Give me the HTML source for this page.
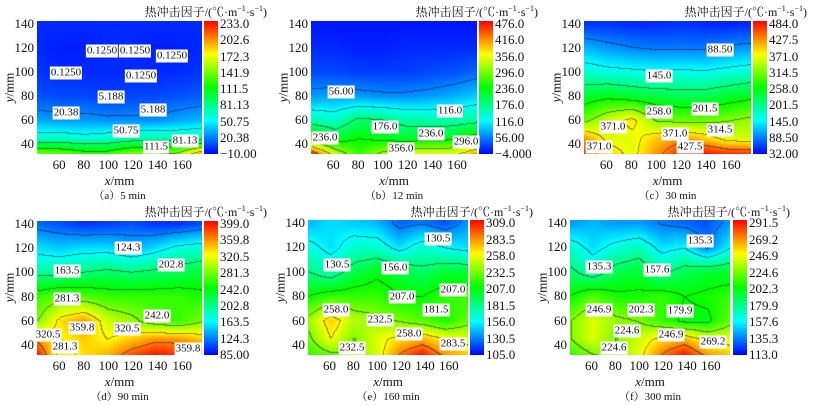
<!DOCTYPE html>
<html><head><meta charset="utf-8"><style>
body{margin:0;width:817px;height:406px;background:#fff;position:relative;overflow:hidden;font-family:"Liberation Serif","Noto Serif CJK SC",serif;color:#111}
.a{position:absolute;white-space:nowrap;line-height:1}
.lb{position:absolute;transform:translate(-50%,-50%);background:#fff;font-size:11px;padding:1px 1px;line-height:1;white-space:nowrap}
canvas{position:absolute;display:block}
</style></head><body>
<script>
function jet(t){t=Math.max(0,Math.min(1,t));var r,g,b;
if(t<.25){r=0;g=t/.25*255;b=255}else if(t<.5){r=0;g=255;b=255*(1-(t-.25)/.25)}else if(t<.75){r=255*(t-.5)/.25;g=255;b=0}else{r=255;g=255*(1-(t-.75)/.25);b=0}
return [r,g,b]}
var P=[
{x0:37,x1:202,y0:21,y1:154,cb:204,cap:"（a）5 min",ticks:["233.0","202.6","172.3","141.9","111.5","81.13","50.75","20.38","−10.00"],tr:267,ty:12,
g:[[.04,.04,.04,.04,.04,.04,.04,.04],[.04,.03,.03,.04,.04,.03,.03,.04],[.05,.04,.04,.04,.04,.04,.04,.05],[.08,.07,.07,.06,.07,.07,.08,.09],[.16,.15,.15,.14,.14,.14,.16,.18],[.30,.30,.28,.30,.33,.33,.33,.35],[.62,.60,.55,.55,.62,.62,.65,.85]],
L:[["0.1250",102,51],["0.1250",135,51],["0.1250",172,56],["0.1250",66,73],["0.1250",141,76],["5.188",111,97],["5.188",153,110],["20.38",66,113],["50.75",126,131],["111.5",156,147],["81.13",185,141]]},
{x0:311,x1:477,y0:21,y1:154,cb:479,cap:"（b）12 min",ticks:["476.0","416.0","356.0","296.0","236.0","176.0","116.0","56.00","−4.000"],tr:538,ty:12,
g:[[.02,.02,.02,.02,.02,.02,.02,.02],[.04,.04,.03,.03,.04,.04,.04,.04],[.07,.07,.06,.06,.06,.07,.08,.10],[.15,.16,.15,.14,.14,.15,.17,.2],[.33,.30,.40,.38,.34,.33,.33,.35],[.55,.45,.50,.48,.45,.47,.48,.55],[.95,.70,.55,.65,.72,.72,.72,.85]],
L:[["56.00",341,92],["116.0",450,111],["176.0",385,127],["236.0",431,134],["236.0",325,138],["296.0",466,142],["356.0",401,149]]},
{x0:584,x1:751,y0:21,y1:154,cb:753,cap:"（c）30 min",ticks:["484.0","427.5","371.0","314.5","258.0","201.5","145.0","88.50","32.00"],tr:807,ty:12,
g:[[.05,.05,.04,.04,.05,.04,.03,.04],[.18,.15,.13,.12,.12,.12,.14,.15],[.30,.28,.27,.26,.27,.26,.28,.30],[.45,.48,.45,.43,.42,.42,.45,.48],[.60,.70,.78,.62,.60,.60,.62,.65],[.85,.72,.72,.80,.85,.80,.72,.70],[.95,.80,.72,.85,.95,.98,.95,.95]],
L:[["88.50",720,50],["145.0",659,76],["258.0",659,112],["201.5",705,109],["371.0",613,127],["314.5",720,130],["371.0",675,134],["427.5",690,147],["371.0",599,147]]},
{x0:37,x1:202,y0:221,y1:355,cb:204,cap:"（d）90 min",ticks:["399.0","359.8","320.5","281.3","242.0","202.8","163.5","124.3","85.00"],tr:267,ty:212,
g:[[.10,.08,.05,.06,.08,.05,.05,.08],[.22,.20,.22,.22,.18,.22,.28,.30],[.35,.35,.38,.40,.38,.40,.42,.45],[.55,.60,.58,.55,.55,.55,.55,.52],[.62,.78,.85,.70,.65,.58,.55,.62],[.85,.75,.80,.75,.80,.85,.85,.80],[.98,.70,.78,.82,.92,.98,.95,.90]],
L:[["124.3",128,248],["163.5",67,271],["202.8",171,265],["281.3",67,299],["242.0",157,316],["359.8",82,328],["320.5",127,329],["320.5",48,335],["281.3",65,347],["359.8",188,349]]},
{x0:308,x1:468,y0:220,y1:355,cb:470,cap:"（e）160 min",ticks:["309.0","283.5","258.0","232.5","207.0","181.5","156.0","130.5","105.0"],tr:533,ty:212,
g:[[.18,.22,.20,.18,.10,.12,.08,.15],[.28,.22,.30,.30,.22,.30,.25,.22],[.38,.32,.42,.48,.45,.40,.45,.45],[.50,.55,.55,.55,.50,.50,.55,.55],[.65,.80,.68,.65,.62,.58,.52,.60],[.60,.75,.62,.72,.78,.82,.75,.72],[.55,.60,.62,.70,.88,.98,.85,.80]],
L:[["130.5",438,239],["130.5",337,265],["156.0",395,268],["207.0",453,290],["207.0",402,297],["181.5",436,310],["258.0",336,310],["232.5",380,320],["258.0",409,334],["232.5",352,348],["283.5",453,344]]},
{x0:570,x1:730,y0:220,y1:355,cb:733,cap:"（f）300 min",ticks:["291.5","269.2","246.9","224.6","202.3","179.9","157.6","135.3","113.0"],tr:790,ty:212,
g:[[.15,.18,.15,.15,.12,.10,.08,.15],[.30,.22,.28,.32,.22,.25,.12,.25],[.40,.32,.42,.45,.35,.42,.45,.45],[.50,.58,.52,.52,.55,.50,.52,.55],[.62,.72,.65,.62,.55,.48,.48,.60],[.62,.72,.62,.70,.78,.82,.72,.72],[.55,.62,.65,.72,.88,.98,.85,.80]],
L:[["135.3",700,241],["135.3",599,267],["157.6",657,270],["246.9",599,310],["202.3",641,310],["179.9",680,311],["224.6",627,331],["246.9",671,335],["269.2",713,342],["224.6",614,348]]}
];
var rowsY=[140,120,100,80,60,45,32];
function el(h){document.body.insertAdjacentHTML('beforeend',h)}
P.forEach(function(p){
 var w=p.x1-p.x0,h=p.y1-p.y0;
 var c=document.createElement('canvas');c.width=w;c.height=h;c.style.left=p.x0+'px';c.style.top=p.y0+'px';document.body.appendChild(c);
 var ctx=c.getContext('2d'),im=ctx.createImageData(w,h),V=new Float32Array(w*h);
 var ymax=142.5,ymin=31.7;
 for(var j=0;j<h;j++){var yv=ymax-(j+.5)/h*(ymax-ymin);
  var r=0;while(r<5&&yv<rowsY[r+1])r++;var fy=(rowsY[r]-yv)/(rowsY[r]-rowsY[r+1]);fy=Math.max(0,Math.min(1,fy));
  for(var i=0;i<w;i++){var xf=(i+.5)/w*7,ci=Math.min(6,Math.floor(xf)),fx=xf-ci;
   var g=p.g,v=(g[r][ci]*(1-fx)+g[r][ci+1]*fx)*(1-fy)+(g[r+1][ci]*(1-fx)+g[r+1][ci+1]*fx)*fy;
   V[j*w+i]=v;var col=jet(v),k=(j*w+i)*4;im.data[k]=col[0];im.data[k+1]=col[1];im.data[k+2]=col[2];im.data[k+3]=255;}}
 for(var j=1;j<h;j++)for(var i=1;i<w;i++){var q=Math.floor(V[j*w+i]*8);
  if(q!=Math.floor(V[j*w+i-1]*8)||q!=Math.floor(V[(j-1)*w+i]*8)){var k=(j*w+i)*4;im.data[k]*=.55;im.data[k+1]*=.55;im.data[k+2]*=.55;}}
 ctx.putImageData(im,0,0);
 el('<div class="a" style="left:'+p.cb+'px;top:'+p.y0+'px;width:14px;height:'+h+'px;background:linear-gradient(to top,#00f,#0ff 25%,#0f0 50%,#ff0 75%,#f00)"></div>');
 for(var t=0;t<9;t++){var yy=p.y0+3+t*(h-3)/8;el('<div class="a" style="left:'+(p.cb+16)+'px;top:'+(yy-7)+'px;font-size:13px">'+p.ticks[t]+'</div>');}
 el('<div class="a" style="right:'+(817-p.tr)+'px;top:'+(p.ty-7)+'px;font-size:12px">热冲击因子/(℃·m<sup style="font-size:8px">−1</sup>·s<sup style="font-size:8px">−1</sup>)</div>');
 [140,120,100,80,60,40].forEach(function(v){var yy=p.y0+(ymax-v)/(ymax-ymin)*h;el('<div class="a" style="right:'+(817-p.x0+3)+'px;top:'+(yy-7)+'px;font-size:13px">'+v+'</div>');});
 [60,80,100,120,140,160].forEach(function(v){var xx=p.x0+(v-42)/(176-42)*w;el('<div class="a" style="left:'+(xx-20)+'px;width:40px;text-align:center;top:'+(p.y1+4)+'px;font-size:13px">'+v+'</div>');});
 el('<div class="a" style="left:'+(p.x0+w/2-20)+'px;width:40px;text-align:center;top:'+(p.y1+20)+'px;font-size:13px"><i>x</i>/mm</div>');
 el('<div class="a" style="left:'+(p.x0-48)+'px;top:'+(p.y0+h/2-7)+'px;width:40px;text-align:center;font-size:13px;transform:rotate(-90deg)"><i>y</i>/mm</div>');
 el('<div class="a" style="left:'+(p.x0+w/2-60)+'px;width:120px;text-align:center;top:'+(p.y1+37)+'px;font-size:11px">'+p.cap+'</div>');
 p.L.forEach(function(l){el('<div class="lb" style="left:'+l[1]+'px;top:'+l[2]+'px">'+l[0]+'</div>');});
});
</script>
</body></html>
